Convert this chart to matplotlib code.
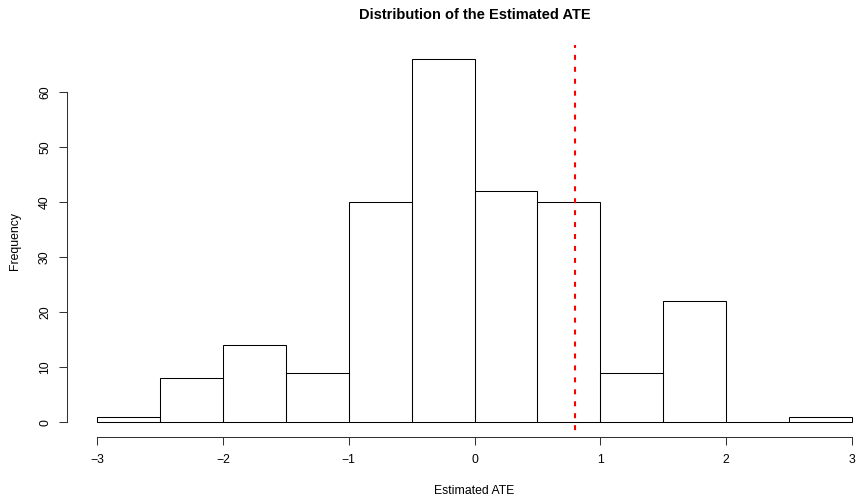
import matplotlib
matplotlib.use("Agg")
import matplotlib.pyplot as plt
import numpy as np

plt.rcParams['font.family'] = ['Liberation Sans', 'DejaVu Sans']
plt.rcParams['lines.scale_dashes'] = False

breaks = [-3.0, -2.5, -2.0, -1.5, -1.0, -0.5, 0.0, 0.5, 1.0, 1.5, 2.0, 2.5, 3.0]
counts = [1, 8, 14, 9, 40, 66, 42, 40, 9, 22, 0, 1]
true_ate = 0.8
x_ticks = [-3, -2, -1, 0, 1, 2, 3]
y_ticks = [0, 10, 20, 30, 40, 50, 60]
title = "Distribution of the Estimated ATE"
xlabel = "Estimated ATE"
ylabel = "Frequency"

W, H = 857, 497
fig = plt.figure(figsize=(W / 100, H / 100), dpi=100)

# plot region in pixels (R-style, 4% extension)
left_px, right_px, top_px, bottom_px = 67, 882, 44.5, 437
ax = fig.add_axes([left_px / W, (H - bottom_px) / H,
                   (right_px - left_px) / W, (bottom_px - top_px) / H])
ax.patch.set_visible(False)

xmin, xmax = breaks[0], breaks[-1]
xr = (xmax - xmin) * 0.04
ymax = max(counts)
yr = ymax * 0.04
ax.set_xlim(xmin - xr, xmax + xr)
ax.set_ylim(-yr, ymax + yr)

lefts = breaks[:-1]
widths = np.diff(breaks)
ax.bar(lefts, counts, width=widths, align='edge', fill=False,
       edgecolor='black', linewidth=0.75)

ax.plot([true_ate, true_ate], [ymax + yr, -yr], color='#FF0000',
        linewidth=1.5, linestyle=(1.5, (3.6, 5.0)), clip_on=False)

for s in ['top', 'right']:
    ax.spines[s].set_visible(False)
ax.spines['left'].set_bounds(y_ticks[0], y_ticks[-1])
ax.spines['bottom'].set_bounds(x_ticks[0], x_ticks[-1])
for s in ['left', 'bottom']:
    ax.spines[s].set_linewidth(0.75)
    ax.spines[s].set_color('#333333')

ax.set_xticks(x_ticks)
ax.set_xticklabels([str(t).replace('-', '\u2212') for t in x_ticks])
ax.set_yticks(y_ticks)
ax.set_yticklabels([str(t) for t in y_ticks], rotation=90, va='center')
ax.tick_params(axis='both', direction='out', length=5.5, width=0.75,
               color='#333333', labelsize=8.8)
ax.tick_params(axis='x', pad=7)
ax.tick_params(axis='y', pad=6)

cx = (left_px + right_px) / 2
fig.text(cx / W, 1 - 15 / H, title, ha='center', va='center',
         fontsize=10.5, fontweight='bold')
fig.text(474 / W, 1 - 491 / H, xlabel, ha='center', va='center', fontsize=8.8)
fig.text(15 / W, 1 - ((top_px + bottom_px) / 2) / H, ylabel, ha='center',
         va='center', rotation=90, fontsize=8.8)

fig.savefig("out.png", dpi=100)
